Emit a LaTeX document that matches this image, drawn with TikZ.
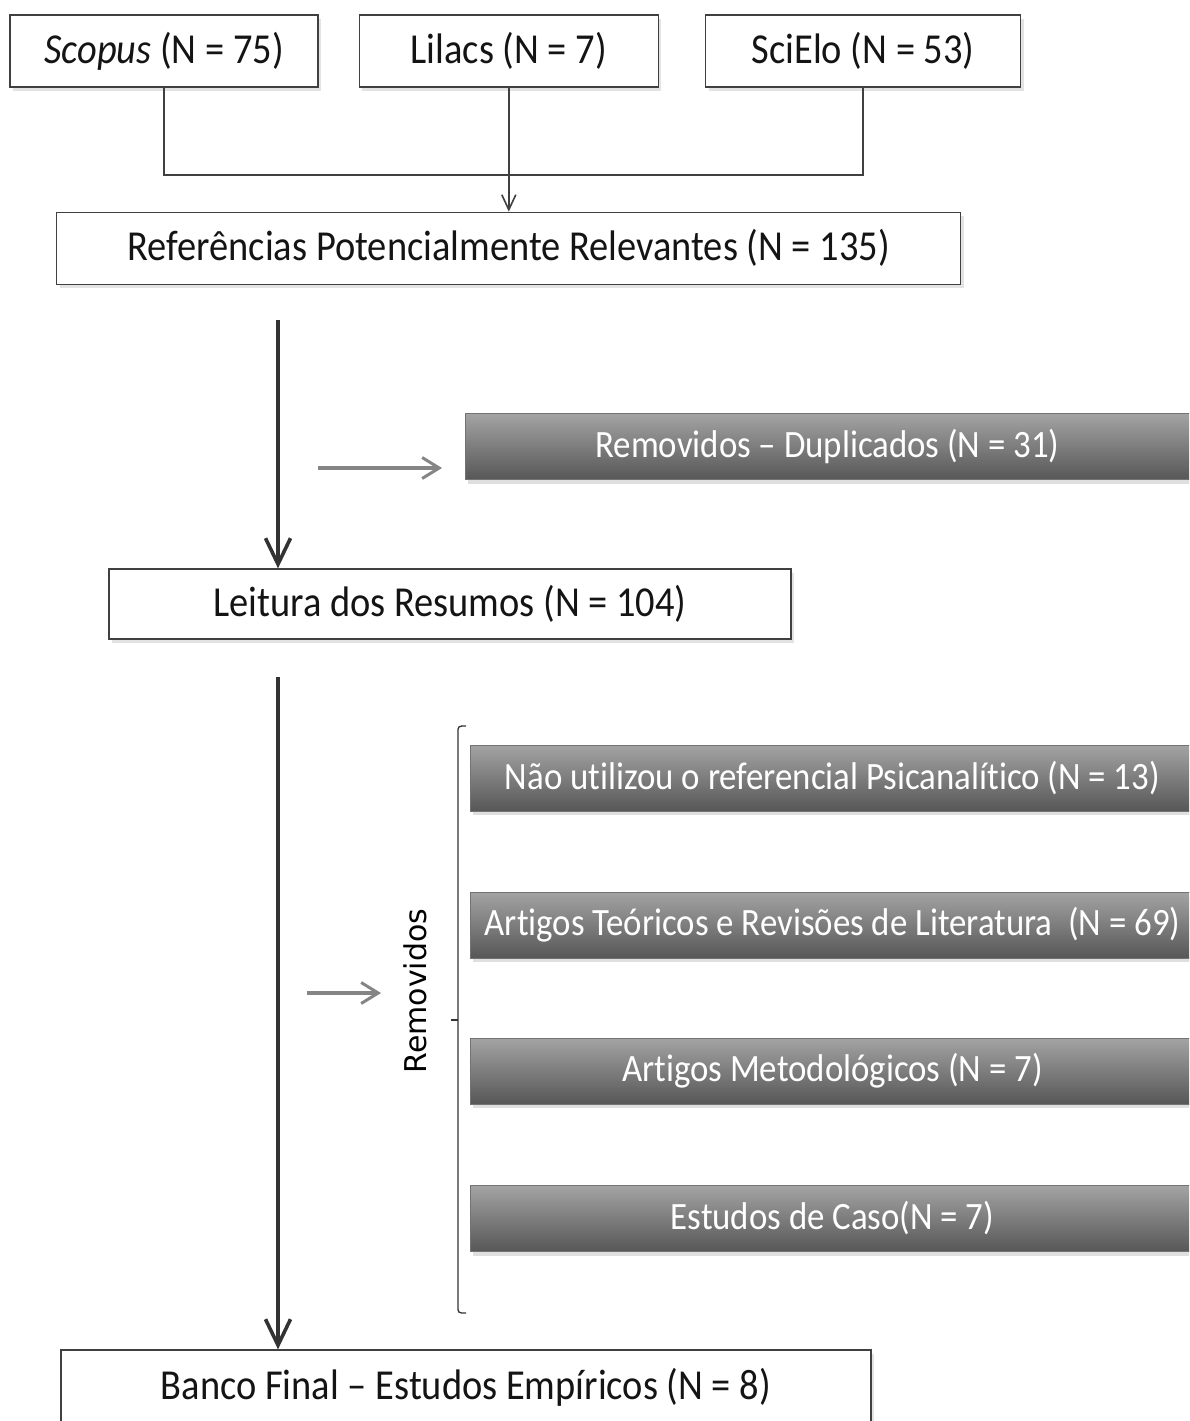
\documentclass[tikz,border=0pt]{standalone}
\usepackage{fontspec}
\setmainfont{Carlito}[FakeStretch=0.9, Ligatures=NoCommon]
\newfontfamily\labelfont{DejaVu Sans}
\usetikzlibrary{positioning,arrows.meta,shadows,calc}
\tikzset{line/.style={draw, line width=1.8pt, draw=black!75, -{Straight Barb[length=15pt,width=14pt,line width=1.6pt]}}}

\begin{document}
\begin{tikzpicture}[x=1pt, y=-1pt, node distance = 1cm, auto]
\tikzstyle{block} = [rectangle, draw=black!75, line width=1.3pt, fill=white, text=black!92, font=\fontsize{42.7}{48}\selectfont, minimum height=72pt, inner sep=0pt, drop shadow={shadow xshift=3pt, shadow yshift=-4pt, opacity=0.22}]
\tikzstyle{removed} = [rectangle, draw=black!55, line width=0.8pt, top color=black!36, middle color=black!52, bottom color=black!66, text=white, font=\fontsize{38.7}{44}\selectfont, minimum width=725pt, minimum height=66pt, inner sep=0pt, drop shadow={shadow xshift=3pt, shadow yshift=-4pt, opacity=0.25}]
\tikzstyle{thickline} = [draw, line width=4pt, draw=black!80, -{Straight Barb[length=26pt,width=25pt,line width=3.6pt]}]
\tikzstyle{grayline} = [draw, line width=3.4pt, draw=black!48, -{Straight Barb[length=17pt,width=21pt,line width=3pt]}]
\tikzstyle{brace} = [draw, line width=1.3pt, draw=black!80]

\clip (0,0) rectangle (1189,1421);
\useasboundingbox (0,0) rectangle (1189,1421);

% databases
\node [block, minimum width=308pt] (scopus) at (164,51) {\itshape Scopus\upshape{} (N = 75)};
\node [block, minimum width=299pt, right=40pt of scopus] (lilacs) {Lilacs (N = 7)};
\node [block, minimum width=315pt, right=46pt of lilacs] (scielo) {SciElo (N = 53)};

\node [block, minimum width=904pt, below=124pt of lilacs] (refs) {Referências Potencialmente Relevantes (N = 135)};
\node [block, minimum width=682pt, minimum height=70pt] (leitura) at (450,604) {Leitura dos Resumos (N = 104)};
\node [block, minimum width=810pt, minimum height=74pt] (banco) at (466,1387) {Banco Final – Estudos Empíricos (N = 8)};

% removed
\node [removed] (dup) at (827.5,446.5) {Removidos – Duplicados (N = 31)};
\node [removed] (psic) at (832.5,778) {Não utilizou o referencial Psicanalítico (N = 13)};
\node [removed] (teor) at (832.5,925) {Artigos Teóricos e Revisões de Literatura \ (N = 69)};
\node [removed] (metod) at (832.5,1071) {Artigos Metodológicos (N = 7)};
\node [removed] (caso) at (832.5,1218.5) {Estudos de Caso(N = 7)};

\node [rotate=90, font=\labelfont\fontsize{30}{36}\selectfont] (remlabel) at (415,991) {Removidos};

% connectors
\coordinate (jn) at ($(lilacs.south)+(0,87)$);
\draw [line width=1.8pt, draw=black!75] (scopus.south) |- (jn) -| (scielo.south);
\path [line] (lilacs.south) -- (refs.north);

\coordinate (a1) at (278,320);
\coordinate (a2) at (278,677);
\path [thickline] (a1) -- (a1 |- leitura.north);
\path [thickline] (a2) -- (a2 |- banco.north);

\coordinate (g1a) at (318,468);
\coordinate (g1b) at (442,468);
\coordinate (g2a) at (307,993);
\coordinate (g2b) at (381,993);
\path [grayline] (g1a) -- (g1b);
\path [grayline] (g2a) -- (g2b);

% bracket
\coordinate (brtop) at (466,726);
\coordinate (brbot) at (466,1313);
\coordinate (brmid) at (458,1020);
\path [brace] (brtop) .. controls (458,726) .. (458,733) -- (458,1306) .. controls (458,1313) .. (brbot);
\path [brace] (brmid) -- ++(-7,0);

\end{tikzpicture}
\end{document}
